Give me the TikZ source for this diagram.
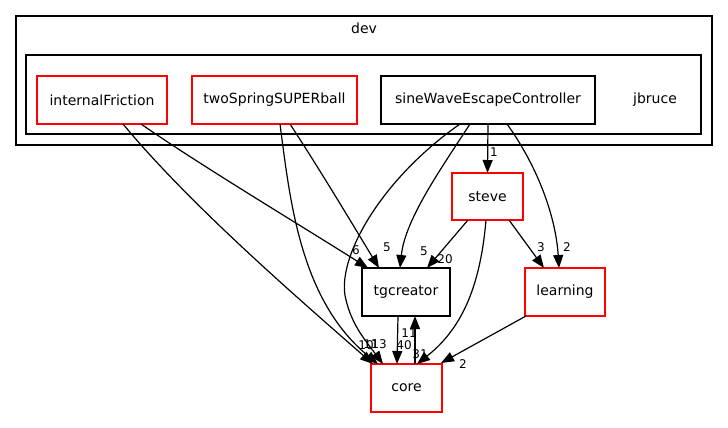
\documentclass[tikz,border=0pt]{standalone}
\usepackage{fontspec}
\setmainfont{DejaVu Sans}
\usetikzlibrary{arrows.meta}
\definecolor{dred}{HTML}{FF0000}
\begin{document}
\begin{tikzpicture}[x=1pt,y=-1pt,
  every node/.style={font=\fontsize{14}{16}\selectfont},
  box/.style={draw, line width=1.2pt, inner sep=0pt, outer sep=0pt, minimum height=48pt},
  redbox/.style={box, draw=dred},
  blkbox/.style={box, draw=black},
  cluster/.style={draw, line width=1.2pt, inner sep=0pt, outer sep=0pt},
  dep/.style={draw, line width=1.2pt, -{Triangle[length=13pt,width=10pt]}},
  lab/.style={inner sep=0pt, font=\fontsize{12}{14}\selectfont}]
\useasboundingbox (0,0) rectangle (728,428);
% clusters
\node[cluster, minimum width=696pt, minimum height=129pt] (dev) at (364,80.5) {};
\node[anchor=center] (devlabel) at (364,28) {dev};
\node[cluster, minimum width=675pt, minimum height=79pt] (jbr) at (363.5,94.5) {};
\node (jbrlabel) at (655,100) {jbruce};
% nodes
\node[redbox, minimum width=130pt] (intf) at (102,100) {internalFriction};
\node[redbox, minimum width=165pt] (two) at (274.5,100) {twoSpringSUPERball};
\node[blkbox, minimum width=214pt] (sine) at (488,100) {sineWaveEscapeController};
\node[redbox, minimum width=71pt, minimum height=47pt] (steve) at (487.5,196.5) {steve};
\node[blkbox, minimum width=88pt] (tgc) at (406,292) {tgcreator};
\node[redbox, minimum width=80pt] (learn) at (565,292) {learning};
\node[redbox, minimum width=71pt] (core) at (406.5,388) {core};
% edges
\draw[dep] ([xshift=86pt]intf.south west) .. controls (190,205) and (300,300) .. ([xshift=2pt]core.north west);
\draw[dep] ([xshift=104pt]intf.south west) .. controls (200,165) and (300,225) .. ([xshift=6pt]tgc.north west);
\draw[dep] ([xshift=88pt]two.south west) .. controls (290,200) and (300,300) .. ([xshift=7pt]core.north west);
\draw[dep] ([xshift=98pt]two.south west) .. controls (320,170) and (350,220) .. ([xshift=17pt]tgc.north west);
\draw[dep] ([xshift=79pt]sine.south west) .. controls (380,180) and (335,260) .. (346,300) .. controls (352,325) and (365,340) .. ([xshift=12pt]core.north west);
\draw[dep] ([xshift=89pt]sine.south west) .. controls (440,170) and (405,220) .. ([xshift=38pt]tgc.north west);
\draw[dep] ([xshift=107pt]sine.south west) -- ([xshift=35.5pt]steve.north west);
\draw[dep] ([xshift=126pt]sine.south west) .. controls (540,170) and (556,220) .. ([xshift=34pt]learn.north west);
\draw[dep] ([xshift=16pt]steve.south west) -- ([xshift=65pt]tgc.north west);
\draw[dep] ([xshift=34pt]steve.south west) .. controls (480,290) and (460,330) .. ([xshift=46pt]core.north west);
\draw[dep] ([xshift=57pt]steve.south west) -- ([xshift=19pt]learn.north west);
\draw[dep] ([xshift=1pt]learn.south west) -- ([xshift=-1pt,yshift=1pt]core.north east);
\draw[dep] ([xshift=36pt]tgc.south west) -- ([xshift=26pt]core.north west);
\draw[dep] ([xshift=44pt]core.north west) -- ([xshift=53pt]tgc.south west);
% labels
\node[lab] (l1) at (356,250) {6};
\node[lab] (l2) at (387,247) {5};
\node[lab] (l3) at (424,251) {5};
\node[lab] (l4) at (445,259) {20};
\node[lab] (l5) at (494,152) {1};
\node[lab] (l6) at (541,247) {3};
\node[lab] (l7) at (567,247) {2};
\node[lab] (l8) at (409,333) {11};
\node[lab] (l9) at (404,345) {40};
\node[lab] (l10) at (420,354) {31};
\node[lab] (l11) at (463,364) {2};
\node[lab] (l12) at (366,345) {10};
\node[lab] (l13) at (371,344) {11};
\node[lab] (l14) at (379,344) {13};
\end{tikzpicture}
\end{document}
